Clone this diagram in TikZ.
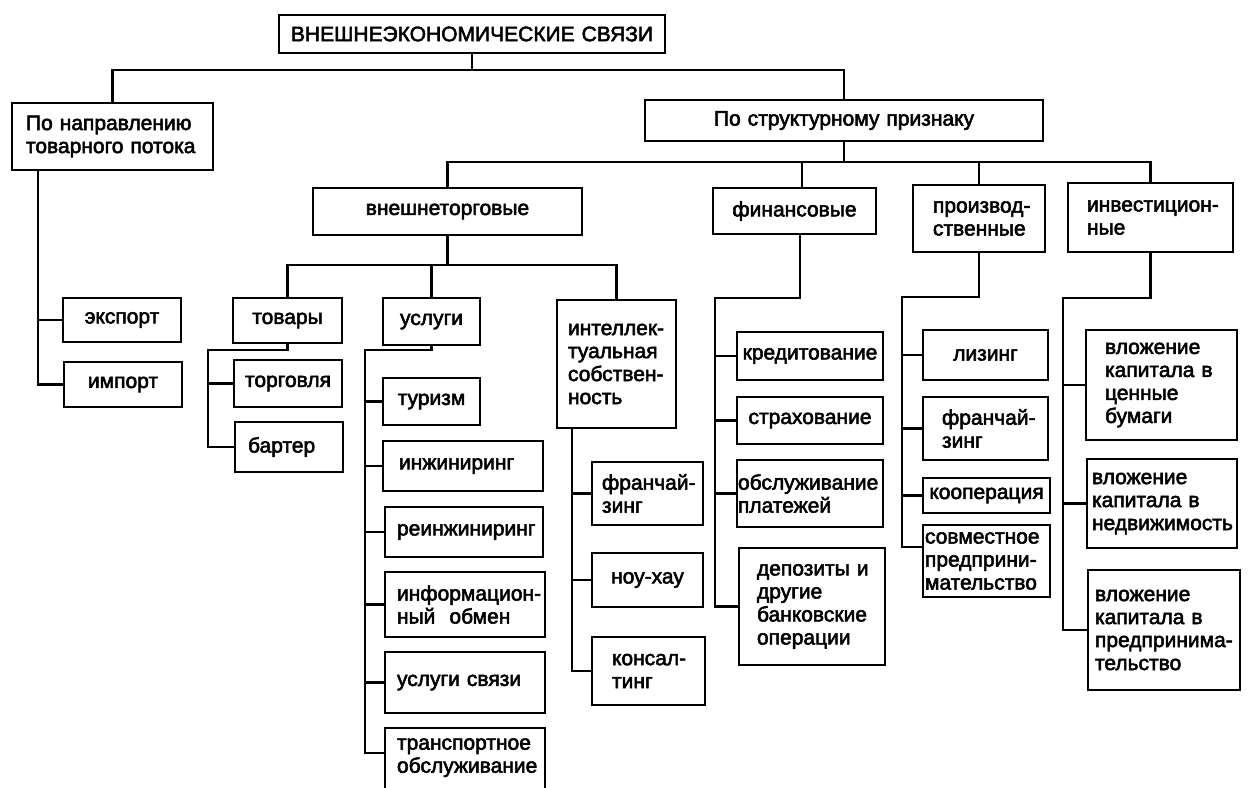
\documentclass[tikz,border=0pt]{standalone}
\usepackage{fontspec}
\setmainfont{Liberation Sans}[FakeBold=2.5]
\begin{document}
\begin{tikzpicture}[x=1pt,y=-1pt]
\tikzset{
  box/.style={draw, rectangle, line width=2.4pt, inner ysep=0pt, inner xsep=1pt, font=\fontsize{21}{23}\selectfont},
  conn/.style={line width=2.2pt}
}
% left-aligned box: name, x1, y1, x2, y2, left pad, text
\newcommand\bxl[7]{%
  \pgfmathsetmacro\bxcx{(#2+#4)/2}%
  \pgfmathsetmacro\bxcy{(#3+#5)/2}%
  \pgfmathsetmacro\bxw{#4-#2}%
  \pgfmathsetmacro\bxh{#5-#3}%
  \pgfmathsetmacro\bxtw{#4-#2-2}%
  \node[box, align=left, text width=\bxtw pt, minimum width=\bxw pt, minimum height=\bxh pt] (#1) at (\bxcx,\bxcy) {\leftskip=#6pt\relax #7\par};%
}
% centred box: name, x1, y1, x2, y2, text
\newcommand\bxc[6]{%
  \pgfmathsetmacro\bxcx{(#2+#4)/2}%
  \pgfmathsetmacro\bxcy{(#3+#5)/2}%
  \pgfmathsetmacro\bxw{#4-#2}%
  \pgfmathsetmacro\bxh{#5-#3}%
  \pgfmathsetmacro\bxtw{#4-#2-2}%
  \node[box, align=center, text width=\bxtw pt, minimum width=\bxw pt, minimum height=\bxh pt] (#1) at (\bxcx,\bxcy) {#6};%
}
\useasboundingbox (0,0) rectangle (1249,787);
\clip (0,0) rectangle (1249,787);
\fill[white] (0,0) rectangle (1249,787);

\bxc{top}{279}{15}{665}{53}{ВНЕШНЕЭКОНОМИЧЕСКИЕ СВЯЗИ}
\bxl{napr}{12}{103}{213}{170}{13}{По направлению\\товарного потока}
\bxc{exp}{63}{298}{181}{342}{экспорт}
\bxc{imp}{64}{362}{182}{407}{импорт}
\bxc{struct}{645}{100}{1043}{141}{По структурному признаку}
\bxc{vt}{313}{188}{582}{235}{внешнеторговые}
\bxc{fin}{713}{188}{876}{234}{финансовые}
\bxl{proizv}{913}{185}{1045}{252}{19}{производ-\\ственные}
\bxl{inv}{1068}{183}{1233}{252}{18}{инвестицион-\\ные}
\bxc{tov}{233}{298}{342}{343}{товары}
\bxc{torg}{234}{360}{342}{407}{торговля}
\bxl{bart}{235}{422}{343}{472}{12}{бартер}
\bxc{usl}{383}{298}{480}{345}{услуги}
\bxc{tur}{383}{378}{480}{425}{туризм}
\bxl{inzh}{383}{441}{543}{491}{15}{инжиниринг}
\bxl{rein}{385}{507}{543}{557}{11}{реинжиниринг}
\bxl{inf}{385}{572}{545}{637}{11}{информацион-\\ный\ \ обмен}
\bxl{sv}{385}{652}{545}{713}{11}{услуги связи}
\bxl{tr}{385}{728}{545}{806}{11}{транспортное\\обслуживание\\\mbox{}}
\bxl{intel}{557}{300}{676}{428}{10}{интеллек-\\туальная\\собствен-\\ность}
\bxl{fr1}{592}{462}{703}{525}{9}{франчай-\\зинг}
\bxc{nou}{592}{553}{703}{607}{ноу-хау}
\bxl{kons}{592}{637}{705}{705}{19}{консал-\\тинг}
\bxc{kred}{737}{332}{883}{380}{кредитование}
\bxc{strah}{737}{397}{883}{444}{страхование}
\bxl{obsl}{737}{460}{883}{527}{0}{обслуживание\\платежей}
\bxl{dep}{739}{548}{885}{665}{17}{депозиты и\\другие\\банковские\\операции}
\bxc{liz}{923}{330}{1048}{380}{лизинг}
\bxl{fr2}{923}{397}{1048}{460}{18}{франчай-\\зинг}
\bxc{koop}{923}{478}{1050}{513}{кооперация}
\bxl{sovm}{923}{525}{1050}{597}{1}{совместное\\предприни-\\мательство}
\bxl{vl1}{1086}{330}{1237}{440}{18}{вложение\\капитала в\\ценные\\бумаги}
\bxl{vl2}{1087}{459}{1237}{548}{4}{вложение\\капитала в\\недвижимость}
\bxl{vl3}{1088}{570}{1240}{690}{6}{вложение\\капитала в\\предпринима-\\тельство}

% level 1
\draw[conn] (top.south) -- (top.south |- 0,70);
\draw[conn] (napr.north) -- (napr.north |- 0,70) -| (struct.north);
% level 2
\draw[conn] (struct.south) -- (struct.south |- 0,162);
\draw[conn] (vt.north) -- (vt.north |- 0,162) -| (inv.north);
\draw[conn] (fin.north -| 802,0) -- (802,162);
\draw[conn] (proizv.north) -- (proizv.north |- 0,162);
% napr
\draw[conn] (napr.south -| 38,0) |- (imp.west);
\draw[conn] (exp.west -| 38,0) -- (exp.west);
% vt level 3
\draw[conn] (vt.south) -- (vt.south |- 0,265);
\draw[conn] (tov.north) -- (tov.north |- 0,265) -| (intel.north);
\draw[conn] (usl.north) -- (usl.north |- 0,265);
% tovary
\draw[conn] (tov.south) |- (208,350) |- (bart.west);
\draw[conn] (torg.west -| 208,0) -- (torg.west);
% uslugi
\draw[conn] (usl.south) |- (365,350) |- (tr.west |- 0,753);
\foreach \n in {tur,inzh,rein,inf,sv} \draw[conn] (\n.west -| 365,0) -- (\n.west);
% intel
\draw[conn] (intel.south -| 572,0) |- (kons.west);
\foreach \n in {fr1,nou} \draw[conn] (\n.west -| 572,0) -- (\n.west);
% fin
\draw[conn] (fin.south -| 800,0) |- (715,298) |- (dep.west);
\foreach \n in {kred,strah,obsl} \draw[conn] (\n.west -| 715,0) -- (\n.west);
% proizv
\draw[conn] (proizv.south) |- (902,297) |- (sovm.west |- 0,547);
\foreach \n in {liz,fr2,koop} \draw[conn] (\n.west -| 902,0) -- (\n.west);
% inv
\draw[conn] (inv.south) |- (1063,298) |- (vl3.west);
\foreach \n in {vl1,vl2} \draw[conn] (\n.west -| 1063,0) -- (\n.west);
\end{tikzpicture}
\end{document}
